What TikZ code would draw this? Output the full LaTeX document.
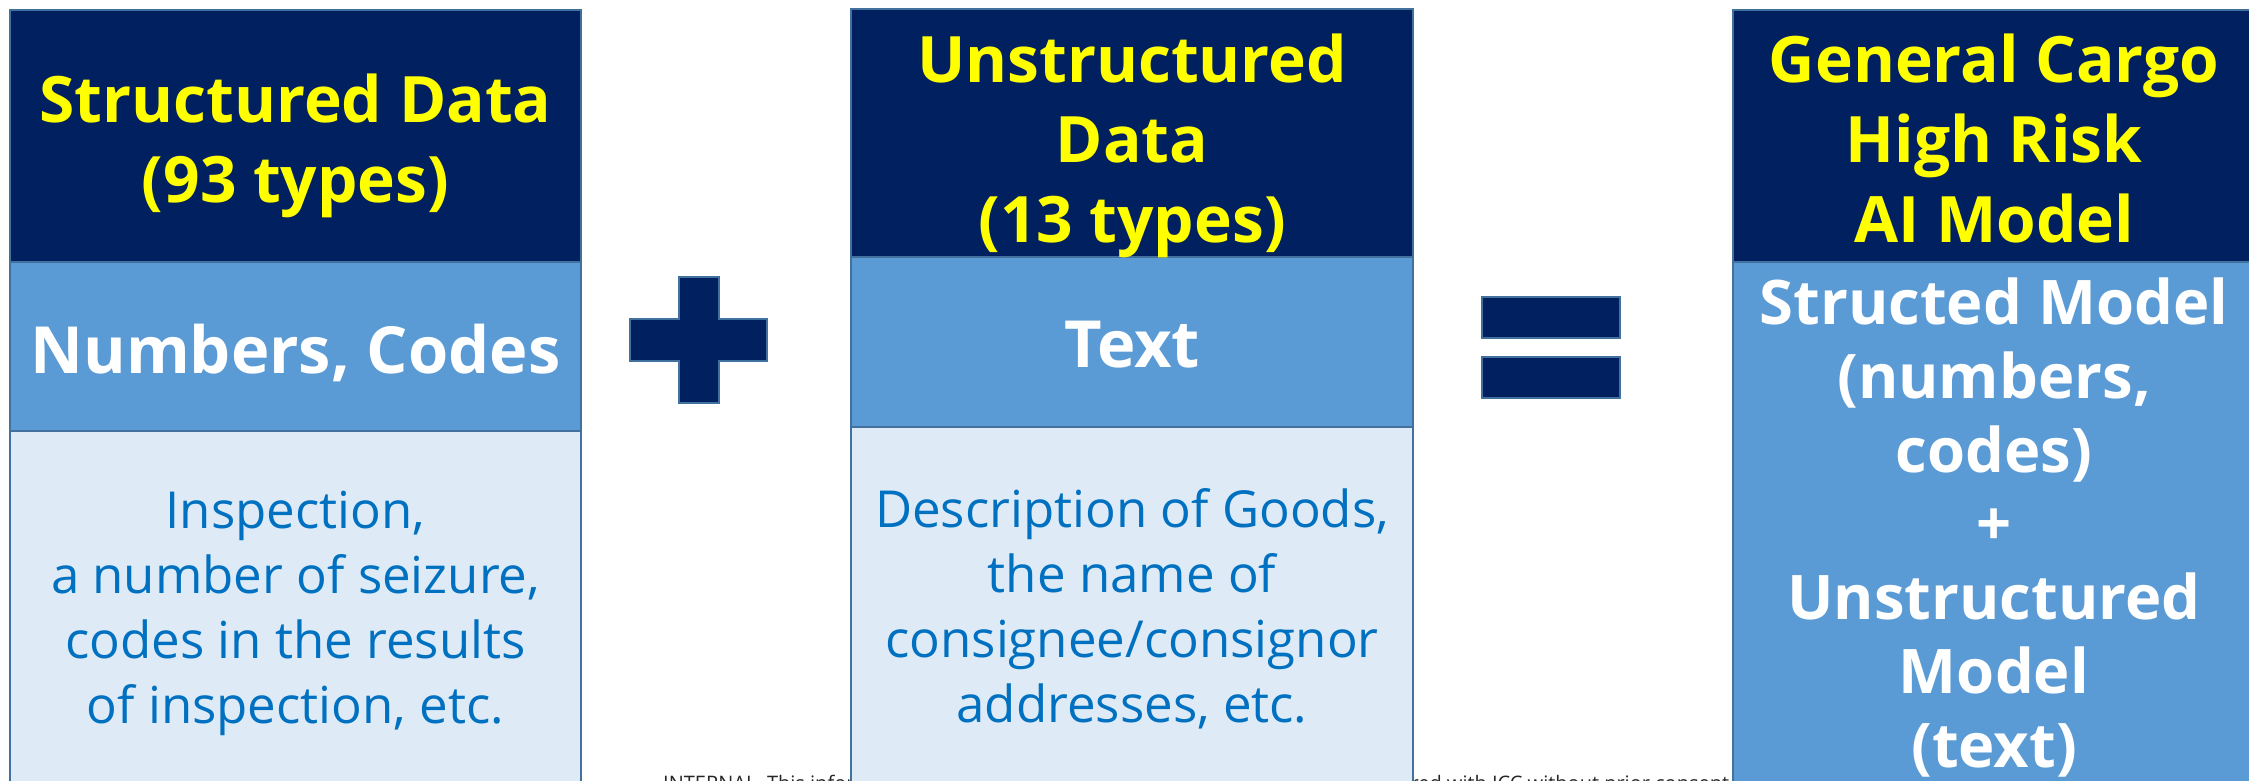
\documentclass[tikz,border=0pt]{standalone}
\usepackage{fontspec}
\setmainfont{Open Sans}
\definecolor{navy}{HTML}{002060}
\definecolor{midblue}{HTML}{5B9BD5}
\definecolor{lightblue}{HTML}{DEEBF7}
\definecolor{edgeblue}{HTML}{41719C}
\definecolor{bodytext}{HTML}{0070C0}
\definecolor{hiyellow}{HTML}{FFFF00}
\begin{document}
\begin{tikzpicture}[x=1pt,y=-1pt,
  sect/.style={draw=edgeblue, line width=1.5pt, anchor=north west, inner sep=0pt, outer sep=0pt},
  hdrbox/.style={sect, fill=navy},
  midbox/.style={sect, fill=midblue},
  bodybox/.style={sect, fill=lightblue},
  sign/.style={fill=navy, draw=edgeblue, line width=1.2pt},
  hdrtext/.style={text=hiyellow, font=\bfseries\fontsize{64}{80}\selectfont, align=center, anchor=base, inner sep=0pt},
  labtext/.style={text=white, font=\bfseries\fontsize{65}{80}\selectfont, align=center, anchor=base, inner sep=0pt},
  bodytxt/.style={text=bodytext, font=\fontsize{51}{65}\selectfont, align=center, anchor=base, inner sep=0pt},
  modeltext/.style={text=white, font=\bfseries\fontsize{61.5}{73.7}\selectfont, align=center, anchor=base, inner sep=0pt},
  foot/.style={text=black!85, font=\fontsize{20}{22}\selectfont, anchor=base west, inner sep=0pt}
]
\useasboundingbox (0,0) rectangle (2249,780);
\fill[white] (0,0) rectangle (2249,780);

% footer (mostly hidden behind boxes)
\node[foot] (footer) at (663,790) {INTERNAL. This information is for internal use and may not be distributed or shared with ICC without prior consent.};

% left column
\node[hdrbox, minimum width=571pt, minimum height=252pt] (lhdr) at (10,10) {};
\node[midbox, minimum width=571pt, minimum height=169pt] (lmid) at (10,262) {};
\node[bodybox, minimum width=571pt, minimum height=380pt] (lbody) at (10,431) {};

% middle column
\node[hdrbox, minimum width=562pt, minimum height=248pt] (mhdr) at (851,9) {};
\node[midbox, minimum width=562pt, minimum height=170pt] (mmid) at (851,257) {};
\node[bodybox, minimum width=562pt, minimum height=380pt] (mbody) at (851,427) {};

% right column
\node[hdrbox, minimum width=530pt, minimum height=252pt] (rhdr) at (1733,10) {};
\node[midbox, minimum width=530pt, minimum height=550pt] (rbody) at (1733,262) {};

% plus sign
\draw[sign] (679,277) -- (719,277) -- (719,319) -- (767,319) -- (767,361) -- (719,361)
  -- (719,403) -- (679,403) -- (679,361) -- (630,361) -- (630,319) -- (679,319) -- cycle;
% equal sign
\draw[sign] (1482,297) rectangle (1620,338);
\draw[sign] (1482,357) rectangle (1620,398);

% texts (base anchor = baseline of the last line)
\node[hdrtext] (lhdrt) at (295.5,202) {Structured Data\\(93 types)};
\node[labtext] (lmidt) at (295.5,373) {Numbers, Codes};
\node[bodytxt] (lbodyt) at (295.5,723) {Inspection,\\a number of seizure,\\codes in the results\\of inspection, etc.};

\node[hdrtext] (mhdrt) at (1132,242) {Unstructured\\Data\\(13 types)};
\node[labtext] (mmidt) at (1132,367) {Text};
\node[bodytxt] (mbodyt) at (1132,722) {Description of Goods,\\the name of\\consignee/consignor\\addresses, etc.};

\node[hdrtext] (rhdrt) at (1994,242) {General Cargo\\High Risk\\AI Model};
\node[modeltext] (rbodyt) at (1994,767) {Structed Model\\(numbers,\\codes)\\+\\Unstructured\\Model\\(text)};
\end{tikzpicture}
\end{document}
